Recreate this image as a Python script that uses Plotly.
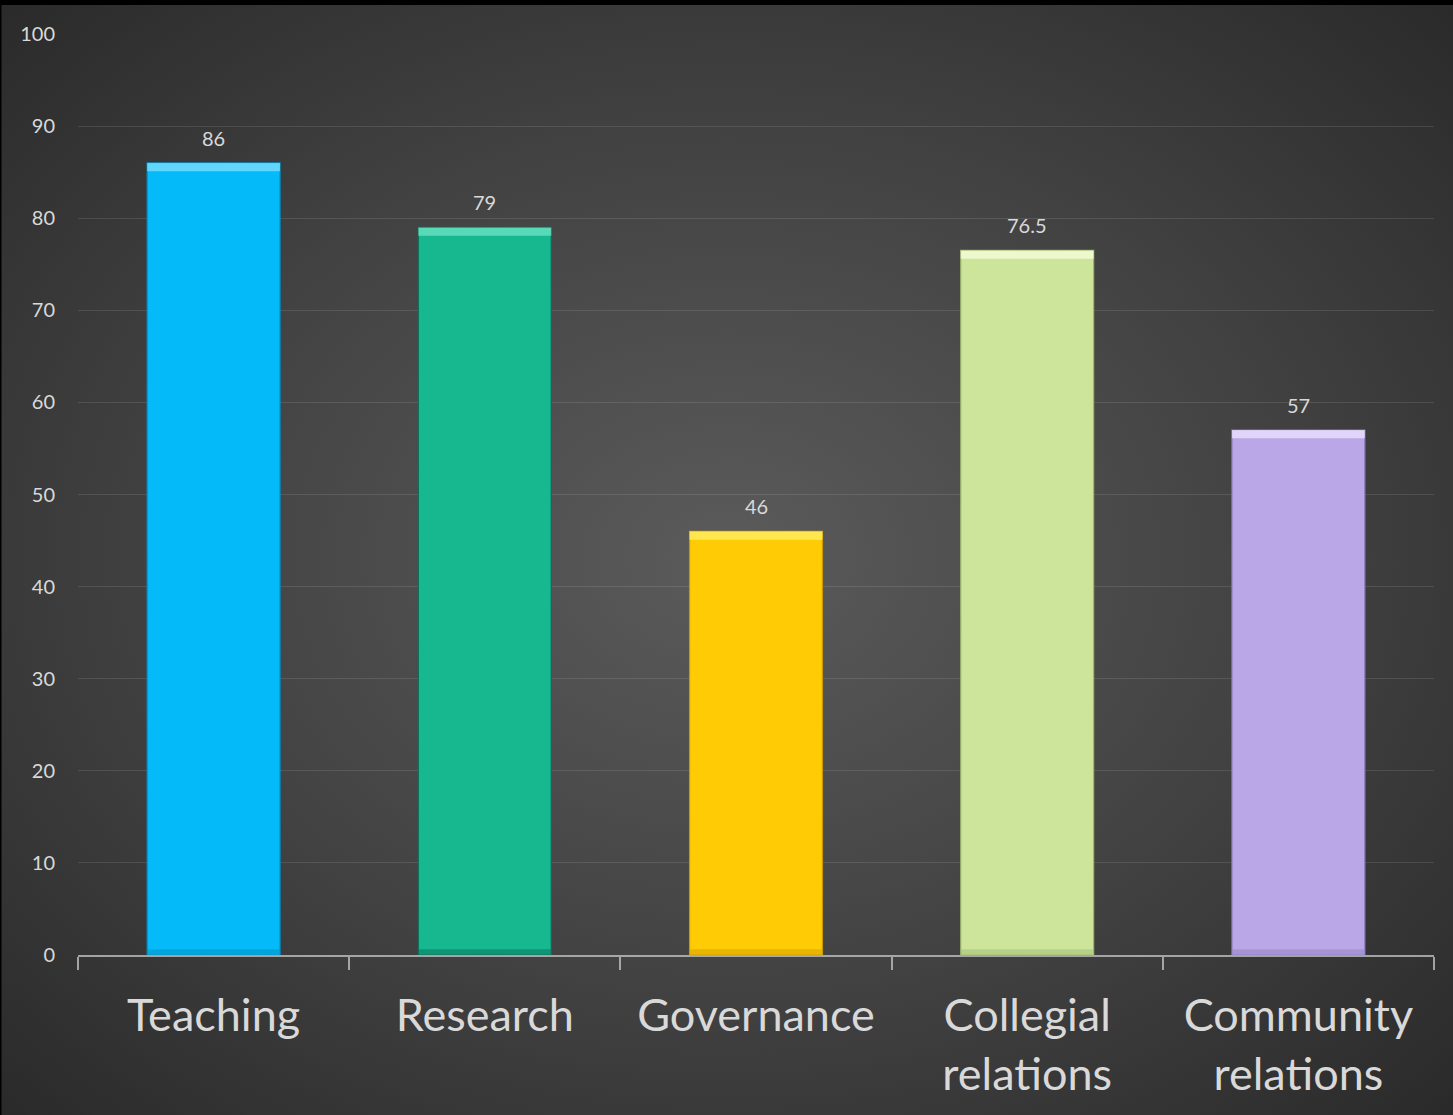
import base64
import plotly.graph_objects as go

categories = ["Teaching", "Research", "Governance", "Collegial<br>relations", "Community<br>relations"]
values = [86, 79, 46, 76.5, 57]
bar_colors = ["#05BAF8", "#17B890", "#FFCB05", "#CDE59B", "#BAA7E7"]
top_colors = ["#7FDFFF", "#6FE6C6", "#FFF06A", "#F7FDDC", "#EDE4FF"]
bottom_colors = ["#0497CC", "#0E7C62", "#D9A800", "#A9C27A", "#9A88C8"]
edge_colors = ["#0A8FC0", "#0C6E57", "#C79A00", "#9DB46E", "#8E7DBA"]
y_ticks = [0, 10, 20, 30, 40, 50, 60, 70, 80, 90, 100]

W, H = 1453, 1115
ML, MR, MT, MB = 78, 19, 34, 160
PW, PH = W - ML - MR, H - MT - MB
BEVEL = 0.9

svg = f'''<svg xmlns="http://www.w3.org/2000/svg" width="{W}" height="{H}" viewBox="0 0 {W} {H}" preserveAspectRatio="none">
<defs><radialGradient id="g" cx="0.5" cy="0.5" r="0.72" fx="0.5" fy="0.5">
<stop offset="0" stop-color="#5b5b5b"/><stop offset="0.55" stop-color="#414141"/><stop offset="1" stop-color="#292929"/>
</radialGradient></defs>
<rect x="0" y="0" width="{W}" height="{H}" fill="url(#g)"/>
<rect x="0" y="0" width="{W}" height="5" fill="#000"/>
<rect x="0" y="0" width="1.5" height="{H}" fill="#000"/>
</svg>'''
src = "data:image/svg+xml;base64," + base64.b64encode(svg.encode()).decode()

fig = go.Figure()
fig.add_trace(go.Bar(
    x=categories, y=values, width=0.49,
    marker=dict(color=bar_colors, line=dict(color=edge_colors, width=1.2)),
    hoverinfo="skip",
))
fig.add_trace(go.Bar(
    x=categories, y=[BEVEL] * len(values), base=[v - BEVEL for v in values], width=0.49,
    marker=dict(color=top_colors, line=dict(width=0), opacity=0.75),
    hoverinfo="skip",
))
fig.add_trace(go.Bar(
    x=categories, y=[BEVEL * 0.7] * len(values), base=[0] * len(values), width=0.49,
    marker=dict(color=bottom_colors, line=dict(width=0), opacity=0.6),
    hoverinfo="skip",
))

for c, v in zip(categories, values):
    fig.add_annotation(x=c, y=v, text=f"{v:g}", showarrow=False, yanchor="bottom", yshift=11,
                       font=dict(family="Lato", size=20, color="#D9D9D9"))

fig.update_layout(
    width=W, height=H,
    margin=dict(l=ML, r=MR, t=MT, b=MB),
    paper_bgcolor="#2b2b2b", plot_bgcolor="rgba(0,0,0,0)",
    barmode="overlay", showlegend=False,
    images=[dict(source=src, xref="paper", yref="paper", x=-ML / PW, y=1 + MT / PH,
                 sizex=W / PW, sizey=H / PH, xanchor="left", yanchor="top",
                 sizing="stretch", layer="below")],
    font=dict(family="Lato", color="#D9D9D9"),
)
fig.update_xaxes(
    showgrid=False, showline=True, linecolor="rgba(200,200,200,0.75)", linewidth=2,
    ticks="outside", tickson="boundaries", ticklen=13, tickwidth=2, tickcolor="rgba(200,200,200,0.75)",
    tickfont=dict(family="Lato", size=45, color="#D9D9D9"), ticklabelstandoff=20,
)
fig.update_yaxes(
    range=[0, 100], tickvals=y_ticks, showgrid=True, gridcolor="rgba(255,255,255,0.11)", gridwidth=1.3,
    zeroline=False, showline=False, ticks="", ticklabelstandoff=22,
    tickfont=dict(family="Lato", size=20, color="#D9D9D9"),
)

fig.write_html("out.html", config={"displayModeBar": False},
               post_script="document.body.style.margin='0';document.body.style.background='#2b2b2b';")
